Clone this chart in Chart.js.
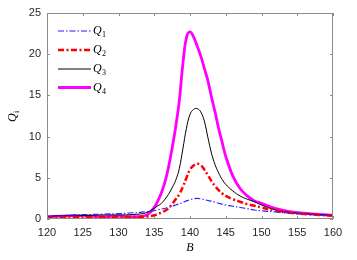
<!DOCTYPE html>
<html lang="en">
<head>
  <meta charset="UTF-8">
  <title>Q_i vs B</title>
  <script src="https://cdn.jsdelivr.net/npm/chart.js"></script>
  <style>
    html, body { margin: 0; padding: 0; background: #fff; }
    #wrap { width: 357px; height: 260px; }
  </style>
</head>
<body>
  <div id="wrap"><canvas id="chart" width="357" height="260"></canvas></div>

  <script>
    // values
    const B = [120, 122, 124, 126, 128, 130, 131, 132, 133, 134, 135, 135.5, 136, 136.5, 137, 137.5,
      138, 138.5, 139, 139.5, 140, 140.5, 141, 141.5, 142, 142.5, 143, 143.5, 144, 144.5, 145,
      146, 147, 148, 149, 150, 152, 154, 156, 158, 160];

    const Q1 = [0.3, 0.4, 0.5, 0.55, 0.6, 0.65, 0.7, 0.75, 0.8, 0.9, 1.0, 1.1, 1.2, 1.3, 1.4, 1.55,
      1.7, 1.85, 2.0, 2.2, 2.35, 2.45, 2.5, 2.45, 2.35, 2.25, 2.15, 2.05, 1.9, 1.8, 1.7,
      1.55, 1.4, 1.25, 1.1, 1.0, 0.85, 0.7, 0.6, 0.5, 0.45];

    const Q2 = [0.2, 0.2, 0.2, 0.2, 0.2, 0.2, 0.2, 0.2, 0.25, 0.3, 0.45, 0.6, 0.8, 1.0, 1.3, 1.8,
      2.4, 3.0, 3.9, 5.0, 6.0, 6.5, 6.7, 6.55, 6.0, 5.3, 4.6, 4.0, 3.5, 3.1, 2.8,
      2.4, 2.1, 1.8, 1.6, 1.4, 1.0, 0.75, 0.6, 0.5, 0.4];

    const Q3 = [0.3, 0.4, 0.4, 0.45, 0.5, 0.5, 0.5, 0.55, 0.6, 0.8, 1.3, 1.6, 1.9, 2.4, 3.0, 3.8,
      4.7, 6.1, 8.5, 11.0, 12.7, 13.3, 13.4, 13.0, 11.9, 9.9, 8.0, 6.6, 5.6, 4.8, 4.2,
      3.4, 2.8, 2.4, 2.1, 1.7, 1.1, 0.8, 0.65, 0.55, 0.45];

    const Q4 = [0.3, 0.35, 0.4, 0.35, 0.3, 0.35, 0.3, 0.3, 0.3, 0.5, 1.4, 2.2, 3.2, 4.5, 6.3, 8.6,
      11.2, 14.3, 18.8, 22.0, 22.7, 22.1, 21.0, 19.8, 18.3, 16.8, 14.8, 13.0, 11.0, 9.3, 7.6,
      5.2, 3.7, 2.8, 2.2, 1.9, 1.25, 0.9, 0.7, 0.55, 0.45];

    const xTicks = [120, 125, 130, 135, 140, 145, 150, 155, 160];
    const yTicks = [0, 5, 10, 15, 20, 25];
    const seriesNames = ["1", "2", "3", "4"];

    const pts = ys => B.map((b, i) => ({ x: b, y: ys[i] }));

    const styles = [
      { color: "#1f1fff", width: 1.1, dash: [6, 2, 1.5, 2] },
      { color: "#ff0000", width: 2.5, dash: [6, 2.5, 2, 2.5] },
      { color: "#000000", width: 1, dash: [] },
      { color: "#ff00ff", width: 2.8, dash: [] }
    ];
    const series = [Q1, Q2, Q3, Q4];

    const axisColor = "#8c8c8c";
    const tickFont = { family: "'Liberation Sans', Arial, sans-serif", size: 11 };

    // frame, inward ticks, legend and axis titles
    const decor = {
      id: "decor",
      afterDatasetsDraw(chart) {
        const ctx = chart.ctx;
        const a = chart.chartArea;
        const xs = chart.scales.x, ys = chart.scales.y;
        ctx.save();
        ctx.strokeStyle = axisColor;
        ctx.lineWidth = 1;
        ctx.beginPath();
        ctx.rect(a.left + 0.5, a.top + 0.5, a.right - a.left - 1, a.bottom - a.top - 1);
        xTicks.forEach(v => {
          const px = Math.round(xs.getPixelForValue(v)) + 0.5;
          ctx.moveTo(px, a.bottom); ctx.lineTo(px, a.bottom - 3);
          ctx.moveTo(px, a.top); ctx.lineTo(px, a.top + 3);
        });
        yTicks.forEach(v => {
          const py = Math.round(ys.getPixelForValue(v)) + 0.5;
          ctx.moveTo(a.left, py); ctx.lineTo(a.left + 3, py);
          ctx.moveTo(a.right, py); ctx.lineTo(a.right - 3, py);
        });
        ctx.stroke();

        // legend
        const ly = [31, 50, 69, 87.5];
        styles.forEach((s, i) => {
          ctx.beginPath();
          ctx.strokeStyle = s.color;
          ctx.lineWidth = s.width;
          ctx.setLineDash(s.dash);
          ctx.moveTo(58, ly[i]); ctx.lineTo(91, ly[i]);
          ctx.stroke();
          ctx.setLineDash([]);
          ctx.fillStyle = "#000";
          ctx.textBaseline = "middle";
          ctx.textAlign = "left";
          ctx.font = "italic 12px 'Liberation Serif', serif";
          ctx.fillText("Q", 93, ly[i]);
          ctx.font = "8px 'Liberation Serif', serif";
          ctx.fillText(seriesNames[i], 102, ly[i] + 4);
        });

        // x title
        ctx.fillStyle = "#000";
        ctx.font = "italic 12px 'Liberation Serif', serif";
        ctx.textAlign = "center";
        ctx.textBaseline = "middle";
        ctx.fillText("B", 190, 248);

        // y title
        ctx.translate(13, 116);
        ctx.rotate(-Math.PI / 2);
        ctx.textAlign = "left";
        ctx.font = "italic 12px 'Liberation Serif', serif";
        ctx.fillText("Q", -6, 0);
        ctx.font = "8px 'Liberation Serif', serif";
        ctx.fillText("i", 3, 4);
        ctx.restore();
      }
    };

    new Chart(document.getElementById("chart"), {
      type: "line",
      data: {
        datasets: series.map((ys, i) => ({
          label: "Q" + seriesNames[i],
          data: pts(ys),
          borderColor: styles[i].color,
          borderWidth: styles[i].width,
          borderDash: styles[i].dash,
          pointRadius: 0,
          fill: false,
          tension: 0.4
        }))
      },
      options: {
        responsive: false,
        animation: false,
        layout: { padding: { left: 0, top: 13, right: 24, bottom: 0 } },
        plugins: { legend: { display: false }, tooltip: { enabled: false } },
        scales: {
          x: {
            type: "linear",
            min: 120, max: 160,
            grid: { display: false, drawTicks: false },
            border: { display: false },
            afterBuildTicks: s => { s.ticks = xTicks.map(v => ({ value: v })); },
            afterFit: s => { s.height = 41; },
            ticks: { color: "#262626", font: tickFont, padding: 7, maxRotation: 0 }
          },
          y: {
            min: 0, max: 25,
            grid: { display: false, drawTicks: false },
            border: { display: false },
            afterBuildTicks: s => { s.ticks = yTicks.map(v => ({ value: v })); },
            afterFit: s => { s.width = 47; },
            ticks: { color: "#262626", font: tickFont, padding: 6 }
          }
        }
      },
      plugins: [decor]
    });
  </script>
</body>
</html>
